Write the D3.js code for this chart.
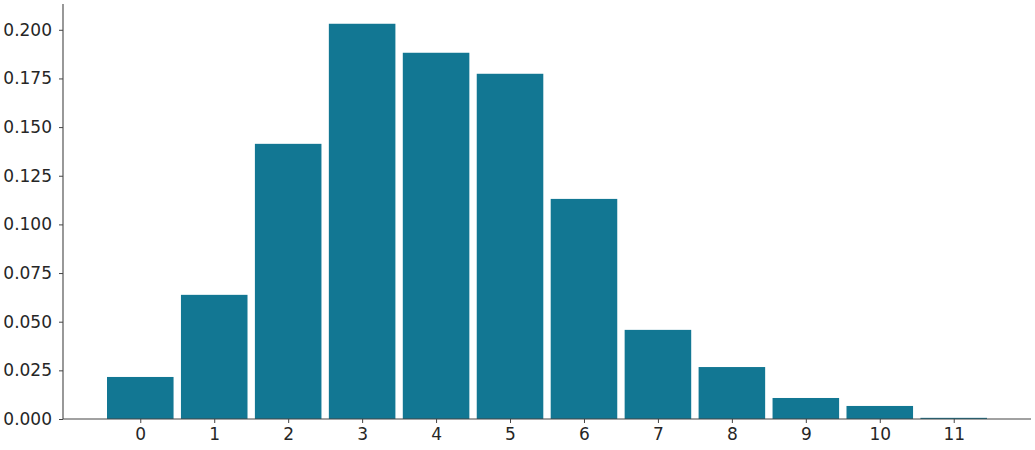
<html>
<head>
<style>
body { margin: 0; background: #fff; }
text { font-family: "DejaVu Sans", sans-serif; }
</style>
</head>
<body>
<div id="chart"></div>
<script src="https://d3js.org/d3.v7.min.js"></script>
<script>

var barColor = "#127793"
var inkColor = "#262626"

var categories = [0, 1, 2, 3, 4, 5, 6, 7, 8, 9, 10, 11]
var values = [0.0216, 0.0638, 0.1414, 0.2031, 0.1882, 0.1774, 0.1131, 0.0458, 0.0267, 0.0108, 0.0067, 0.0006]
var yTicks = [0, 0.025, 0.05, 0.075, 0.1, 0.125, 0.15, 0.175, 0.2]

var margin = {top: 4, right: 4, bottom: 31, left: 63};
var width = 1035 - margin.left - margin.right,
    height = 450 - margin.top - margin.bottom;

var svg = d3.select("#chart")
  .append("svg")
  .attr("width", 1035)
  .attr("height", 450)
  .append("g")
  .attr("transform", "translate(" + margin.left + "," + margin.top + ")");

// matplotlib-style 5% margins around the bars
var barW = 0.9
var xmin = -barW/2, xmax = categories.length - 1 + barW/2
var pad = (xmax - xmin) * 0.05
var x = d3.scaleLinear()
  .domain([xmin - pad, xmax + pad])
  .range([0, width])

var y = d3.scaleLinear()
  .domain([0, d3.max(values) * 1.05])
  .range([height, 0])

svg.selectAll("rect.bar")
  .data(values)
  .enter().append("rect")
  .attr("class", "bar")
  .attr("x", (d, i) => x(categories[i] - barW/2))
  .attr("width", (d, i) => x(categories[i] + barW/2) - x(categories[i] - barW/2))
  .attr("y", d => y(d))
  .attr("height", d => height - y(d))
  .attr("fill", barColor)

var yAxis = d3.axisLeft(y)
  .tickValues(yTicks)
  .tickFormat(d3.format(".3f"))
  .tickSize(4)
  .tickPadding(7)

var xAxis = d3.axisBottom(x)
  .tickValues(categories)
  .tickFormat(d3.format("d"))
  .tickSize(4)
  .tickPadding(5)

var gy = svg.append("g")
  .attr("class", "y axis")
  .call(yAxis)

var gx = svg.append("g")
  .attr("class", "x axis")
  .attr("transform", "translate(0," + height + ")")
  .call(xAxis)

svg.selectAll(".axis").attr("font-size", null).attr("font-family", null)
svg.selectAll(".axis path").attr("stroke", "#444").attr("stroke-width", 1.1)
svg.selectAll(".axis line").attr("stroke", "#444")
svg.selectAll(".axis text")
  .attr("fill", inkColor)
  .style("font-size", "17px")
  .style("font-family", "'DejaVu Sans', sans-serif")

// remove the end cap ticks from the domain path
gy.select("path").attr("d", "M0," + height + "V0")
gx.select("path").attr("d", "M0,0H" + width)

</script>
</body>
</html>
